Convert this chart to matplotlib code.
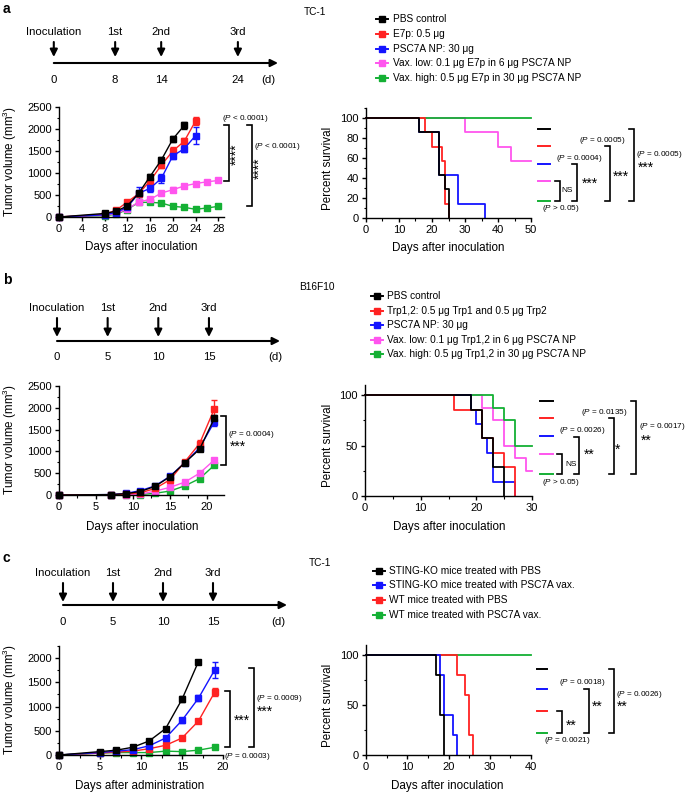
import matplotlib
matplotlib.use('Agg')
import matplotlib.pyplot as plt
from matplotlib.ticker import MultipleLocator

plt.rcParams['font.family'] = ['Liberation Sans', 'DejaVu Sans']
plt.rcParams['mathtext.fontset'] = 'custom'
plt.rcParams['mathtext.rm'] = 'Liberation Sans'
plt.rcParams['mathtext.it'] = 'Liberation Sans:italic'
plt.rcParams['mathtext.bf'] = 'Liberation Sans:bold'

# ---------------- data ----------------
# schedules
a_sched_days = [0, 8, 14, 24]
bc_sched_days = [0, 5, 10, 15]
sched_labels = ['Inoculation', '1st', '2nd', '3rd']

# panel a tumor growth
a_days = [0, 8, 10, 12, 14, 16, 18, 20, 22, 24, 26, 28]
a_pbs = [0, 80, 130, 250, 540, 920, 1300, 1770, 2080]
a_pbs_err = [0, 15, 20, 30, 60, 60, 70, 70, 90]
a_e7p = [0, 60, 150, 340, 530, 820, 1180, 1500, 1720, 2180]
a_e7p_err = [0, 15, 20, 30, 50, 60, 70, 80, 80, 90]
a_np = [0, 50, 100, 220, 540, 650, 880, 1390, 1550, 1850]
a_np_err = [0, 10, 20, 30, 140, 80, 100, 80, 80, 190]
a_low = [0, 40, 80, 180, 340, 400, 545, 620, 705, 760, 800, 830]
a_low_err = [0, 10, 15, 20, 30, 30, 50, 60, 50, 40, 40, 40]
a_high = [0, 30, 60, 170, 333, 333, 318, 242, 220, 175, 205, 242]
a_high_err = [0, 10, 10, 20, 30, 30, 30, 30, 30, 30, 30, 30]

# panel a survival (time, percent)
a_s_pbs_t = [0, 16, 22, 24, 25]
a_s_pbs = [100, 85.7, 42.9, 28.6, 0]
a_s_e7p_t = [0, 18, 20, 23, 24, 25]
a_s_e7p = [100, 85.7, 71.4, 57.1, 14.3, 0]
a_s_np_t = [0, 16, 22, 28, 36]
a_s_np = [100, 85.7, 42.9, 14.3, 0]
a_s_low_t = [0, 30, 40, 44, 50]
a_s_low = [100, 85.7, 71.4, 57.1, 57.1]
a_s_high_t = [0, 50]
a_s_high = [100, 100]

# panel b tumor growth
b_days = [0, 7, 9, 11, 13, 15, 17, 19, 21]
b_pbs = [0, 10, 30, 80, 200, 420, 740, 1050, 1760]
b_pbs_err = [0, 5, 10, 15, 25, 35, 40, 50, 80]
b_trp = [0, 5, 20, 50, 150, 350, 760, 1180, 1980]
b_trp_err = [0, 5, 10, 15, 20, 40, 40, 90, 200]
b_np = [0, 10, 35, 100, 210, 430, 740, 1080, 1680]
b_np_err = [0, 5, 10, 15, 25, 35, 40, 50, 90]
b_low = [0, 0, 10, 20, 90, 175, 295, 500, 805]
b_low_err = [0, 0, 5, 10, 15, 20, 25, 30, 40]
b_high = [0, 0, 5, 10, 40, 90, 210, 375, 685]
b_high_err = [0, 0, 5, 5, 10, 15, 20, 30, 40]

# panel b survival
b_s_pbs_t = [0, 19, 21, 23, 25]
b_s_pbs = [100, 85.7, 57.1, 28.6, 0]
b_s_trp_t = [0, 16, 21, 23, 25, 27]
b_s_trp = [100, 85.7, 57.1, 42.9, 28.6, 0]
b_s_np_t = [0, 19, 20, 21, 22, 23, 27]
b_s_np = [100, 85.7, 71.4, 57.1, 42.9, 14.3, 0]
b_s_low_t = [0, 21, 23, 25, 27, 29, 30]
b_s_low = [100, 87.5, 75, 50, 37.5, 25, 25]
b_s_high_t = [0, 23, 25, 27, 30]
b_s_high = [100, 87.5, 75, 50, 50]

# panel c tumor growth
c_days = [0, 5, 7, 9, 11, 13, 15, 17, 19]
c_ko_pbs = [0, 70, 100, 160, 290, 545, 1150, 1925]
c_ko_pbs_err = [0, 10, 10, 15, 20, 30, 60, 30]
c_ko_vax = [0, 50, 80, 110, 190, 350, 715, 1170, 1760]
c_ko_vax_err = [0, 10, 10, 10, 15, 20, 50, 60, 170]
c_wt_pbs = [0, 40, 60, 80, 130, 200, 350, 700, 1300]
c_wt_pbs_err = [0, 10, 10, 10, 15, 15, 25, 40, 80]
c_wt_vax = [0, 40, 50, 50, 50, 80, 70, 100, 160]
c_wt_vax_err = [0, 5, 5, 5, 5, 10, 10, 10, 20]

# panel c survival
c_s_ko_pbs_t = [0, 17, 18, 19]
c_s_ko_pbs = [100, 80, 40, 0]
c_s_ko_vax_t = [0, 18, 19, 21, 22]
c_s_ko_vax = [100, 80, 40, 20, 0]
c_s_wt_pbs_t = [0, 22, 24, 25, 26]
c_s_wt_pbs = [100, 80, 60, 20, 0]
c_s_wt_vax_t = [0, 40]
c_s_wt_vax = [100, 100]

a_legend = ['PBS control', 'E7p: 0.5 \u03bcg', 'PSC7A NP: 30 \u03bcg',
            'Vax. low: 0.1 \u03bcg E7p in 6 \u03bcg PSC7A NP',
            'Vax. high: 0.5 \u03bcg E7p in 30 \u03bcg PSC7A NP']
b_legend = ['PBS control', 'Trp1,2: 0.5 \u03bcg Trp1 and 0.5 \u03bcg Trp2', 'PSC7A NP: 30 \u03bcg',
            'Vax. low: 0.1 \u03bcg Trp1,2 in 6 \u03bcg PSC7A NP',
            'Vax. high: 0.5 \u03bcg Trp1,2 in 30 \u03bcg PSC7A NP']
c_legend = ['STING-KO mice treated with PBS', 'STING-KO mice treated with PSC7A vax.',
            'WT mice treated with PBS', 'WT mice treated with PSC7A vax.']

BLACK = '#000000'
RED = '#ff2222'
BLUE = '#1414ff'
MAG = '#ff55ee'
GREEN = '#14b034'

# ---------------- figure ----------------
W, H = 685, 793
fig = plt.figure(figsize=(W / 100, H / 100), dpi=100)


def pax(x0, y0, x1, y1, **kw):
    return fig.add_axes([x0 / W, 1 - y1 / H, (x1 - x0) / W, (y1 - y0) / H], **kw)


ov = pax(0, 0, W, H, zorder=10)
ov.set_xlim(0, W)
ov.set_ylim(H, 0)
ov.axis('off')

TICK = 8
LAB = 8.4
PFS = 5.9
STAR = 10
LEG = 7.25


def style(ax):
    for s in ['top', 'right']:
        ax.spines[s].set_visible(False)
    for s in ['left', 'bottom']:
        ax.spines[s].set_linewidth(1.0)
    ax.tick_params(which='major', direction='out', length=3, width=1.0,
                   labelsize=TICK, pad=2)
    ax.tick_params(which='minor', direction='out', length=1.8, width=0.8)
    ax.patch.set_alpha(0)


def timeline(days, px0, ppd, x_end, y_lab, y_top, y_tip, y_line, y_num, d_x):
    ax = pax(0, y_lab - 12, 300, y_num + 12)
    ax.set_xlim((0 - px0) / ppd, (300 - px0) / ppd)
    ax.set_ylim(y_num + 12, y_lab - 12)
    ax.axis('off')
    ap = dict(arrowstyle='-|>', color='k', lw=1.5, mutation_scale=11,
              shrinkA=0, shrinkB=0)
    for d, lab in zip(days, sched_labels):
        ax.annotate('', xy=(d, y_tip), xytext=(d, y_top), arrowprops=ap)
        ax.text(d, y_lab, lab, ha='center', va='center', fontsize=8.2)
        ax.text(d, y_num, str(d), ha='center', va='center', fontsize=8.2)
    ax.annotate('', xy=((x_end - px0) / ppd, y_line), xytext=(days[0], y_line),
                arrowprops=ap)
    ax.text((d_x - px0) / ppd, y_num, '(d)', ha='center', va='center', fontsize=8.2)


def tumor(ax, days, vals, errs, color):
    n = len(vals)
    ax.errorbar(days[:n], vals, yerr=errs, color=color, marker='s', ms=4.3,
                mec=color, mfc=color, lw=1.0, elinewidth=1.0, capsize=2,
                capthick=1.0, clip_on=False)


def km(ax, t, s, color):
    ax.step(t, s, where='post', color=color, lw=1.3, clip_on=False)


def ptxt(op, val):
    return r'($\mathit{P}$' + ' ' + op + ' ' + val + ')'


def bracket(x, y0, y1, tick=5, lw=1.2):
    ov.plot([x - tick, x, x, x - tick], [y0, y0, y1, y1], color='k', lw=lw,
            solid_joinstyle='miter')


def stars(x, y, s, rot=0):
    ov.text(x, y + 2.5 if rot == 0 else y, s, rotation=rot, ha='center',
            va='center', fontsize=STAR)


def legend_rows(x_mark, x_text, ys, labels, colors):
    for y, lab, c in zip(ys, labels, colors):
        ov.plot([x_mark - 6, x_mark + 6], [y, y], color=c, lw=1.4)
        ov.plot([x_mark], [y], marker='s', ms=4.3, color=c)
        ov.text(x_text, y, lab, ha='left', va='center', fontsize=LEG)


def surv_keys(x0, x1, ys, colors):
    for y, c in zip(ys, colors):
        ov.plot([x0, x1], [y, y], color=c, lw=1.4)


# ---------------- panel a ----------------
ov.text(3, 9, 'a', fontsize=10, fontweight='bold', ha='left', va='center')
ov.text(315, 12, 'TC-1', fontsize=7.3, ha='center', va='center')
timeline(a_sched_days, 53.8, 7.67, 278, 32, 42, 57, 63, 80, 268)
legend_rows(382, 393, [19, 34, 49, 63, 78], a_legend,
            [BLACK, RED, BLUE, MAG, GREEN])

ax = pax(59, 107, 224, 217)
style(ax)
tumor(ax, a_days, a_high, a_high_err, GREEN)
tumor(ax, a_days, a_low, a_low_err, MAG)
tumor(ax, a_days, a_e7p, a_e7p_err, RED)
tumor(ax, a_days, a_np, a_np_err, BLUE)
tumor(ax, a_days, a_pbs, a_pbs_err, BLACK)
ax.set_xlim(0, 29)
ax.set_ylim(0, 2500)
ax.set_xticks(range(0, 29, 4))
ax.set_yticks(range(0, 2501, 500))
ax.yaxis.set_minor_locator(MultipleLocator(250))
ov.text(10, 162, 'Tumor volume (mm$^3$)', rotation=90, ha='center', va='center', fontsize=LAB)
ov.text(141, 247, 'Days after inoculation', ha='center', va='center', fontsize=LAB)
bracket(229, 125, 181)
bracket(252, 125, 206)
stars(237, 154, '****', rot=90)
stars(260, 168, '****', rot=90)
ov.text(245, 118, ptxt('<', '0.0001'), ha='center', va='center', fontsize=PFS)
ov.text(277, 147, ptxt('<', '0.0001'), ha='center', va='center', fontsize=PFS)

ax = pax(366, 108, 531, 218)
style(ax)
km(ax, a_s_low_t, a_s_low, MAG)
km(ax, a_s_high_t, a_s_high, GREEN)
km(ax, a_s_np_t, a_s_np, BLUE)
km(ax, a_s_e7p_t, a_s_e7p, RED)
km(ax, a_s_pbs_t, a_s_pbs, BLACK)
ax.set_xlim(0, 50)
ax.set_ylim(0, 110)
ax.set_xticks(range(0, 51, 10))
ax.xaxis.set_minor_locator(MultipleLocator(5))
ax.set_yticks(range(0, 101, 20))
ax.yaxis.set_minor_locator(MultipleLocator(10))
ov.text(328, 168, 'Percent survival', rotation=90, ha='center', va='center', fontsize=LAB)
ov.text(448, 248, 'Days after inoculation', ha='center', va='center', fontsize=LAB)
surv_keys(538, 550, [129, 146, 164, 181, 201], [BLACK, RED, BLUE, MAG, GREEN])
bracket(560, 181, 201)
ov.text(567, 191, 'NS', ha='center', va='center', fontsize=6)
ov.text(561, 209, ptxt('>', '0.05'), ha='center', va='center', fontsize=PFS)
bracket(577, 164, 201)
stars(589.5, 181, '***')
ov.text(579, 158, ptxt('=', '0.0004'), ha='center', va='center', fontsize=PFS)
bracket(610, 146, 201)
stars(621, 174, '***')
ov.text(602, 140, ptxt('=', '0.0005'), ha='center', va='center', fontsize=PFS)
bracket(634, 129, 201)
ov.text(659, 154, ptxt('=', '0.0005'), ha='center', va='center', fontsize=PFS)
stars(646, 165, '***')

# ---------------- panel b ----------------
ov.text(3, 280, 'b', fontsize=10, fontweight='bold', ha='left', va='center')
ov.text(317, 287, 'B16F10', fontsize=7.3, ha='center', va='center')
timeline(bc_sched_days, 57, 10.13, 280, 308, 318, 337, 341, 357, 275)
legend_rows(377, 387, [296, 311, 325, 340, 354], b_legend,
            [BLACK, RED, BLUE, MAG, GREEN])

ax = pax(59, 386, 224, 495)
style(ax)
tumor(ax, b_days, b_high, b_high_err, GREEN)
tumor(ax, b_days, b_low, b_low_err, MAG)
tumor(ax, b_days, b_np, b_np_err, BLUE)
tumor(ax, b_days, b_trp, b_trp_err, RED)
tumor(ax, b_days, b_pbs, b_pbs_err, BLACK)
ax.set_xlim(0, 22.3)
ax.set_ylim(0, 2500)
ax.set_xticks(range(0, 21, 5))
ax.xaxis.set_minor_locator(MultipleLocator(2.5))
ax.set_yticks(range(0, 2501, 500))
ax.yaxis.set_minor_locator(MultipleLocator(250))
ov.text(10, 440, 'Tumor volume (mm$^3$)', rotation=90, ha='center', va='center', fontsize=LAB)
ov.text(142, 527, 'Days after inoculation', ha='center', va='center', fontsize=LAB)
bracket(226, 416, 465)
ov.text(251, 434, ptxt('=', '0.0004'), ha='center', va='center', fontsize=PFS)
stars(238, 444, '***')

ax = pax(365, 385, 532, 496)
style(ax)
km(ax, b_s_low_t, b_s_low, MAG)
km(ax, b_s_high_t, b_s_high, GREEN)
km(ax, b_s_np_t, b_s_np, BLUE)
km(ax, b_s_trp_t, b_s_trp, RED)
km(ax, b_s_pbs_t, b_s_pbs, BLACK)
ax.set_xlim(0, 30)
ax.set_ylim(0, 110)
ax.set_xticks(range(0, 31, 10))
ax.xaxis.set_minor_locator(MultipleLocator(5))
ax.set_yticks([0, 50, 100])
ax.yaxis.set_minor_locator(MultipleLocator(25))
ov.text(328, 445, 'Percent survival', rotation=90, ha='center', va='center', fontsize=LAB)
ov.text(449, 527, 'Days after inoculation', ha='center', va='center', fontsize=LAB)
surv_keys(540, 553, [401, 418, 436, 454, 474], [BLACK, RED, BLUE, MAG, GREEN])
bracket(562, 454, 474)
ov.text(571, 464, 'NS', ha='center', va='center', fontsize=6)
ov.text(561, 482, ptxt('>', '0.05'), ha='center', va='center', fontsize=PFS)
bracket(579, 437, 474)
stars(589.5, 452, '**')
ov.text(582, 431, ptxt('=', '0.0026'), ha='center', va='center', fontsize=PFS)
bracket(614, 418, 474)
stars(618, 447, '*')
ov.text(604, 412, ptxt('=', '0.0135'), ha='center', va='center', fontsize=PFS)
bracket(636, 401, 474)
ov.text(662, 427, ptxt('=', '0.0017'), ha='center', va='center', fontsize=PFS)
stars(646, 438, '**')

# ---------------- panel c ----------------
ov.text(3, 558, 'c', fontsize=10, fontweight='bold', ha='left', va='center')
ov.text(320, 563, 'TC-1', fontsize=7.3, ha='center', va='center')
timeline(bc_sched_days, 63, 10.0, 287, 573, 583, 602, 605, 622, 278)
legend_rows(379, 389, [571, 585, 600, 615], c_legend,
            [BLACK, BLUE, RED, GREEN])

ax = pax(59, 646, 223, 755)
style(ax)
tumor(ax, c_days, c_wt_vax, c_wt_vax_err, GREEN)
tumor(ax, c_days, c_wt_pbs, c_wt_pbs_err, RED)
tumor(ax, c_days, c_ko_vax, c_ko_vax_err, BLUE)
tumor(ax, c_days, c_ko_pbs, c_ko_pbs_err, BLACK)
ax.set_xlim(0, 20)
ax.set_ylim(0, 2250)
ax.set_xticks(range(0, 21, 5))
ax.xaxis.set_minor_locator(MultipleLocator(2.5))
ax.set_yticks(range(0, 2001, 500))
ax.yaxis.set_minor_locator(MultipleLocator(250))
ov.text(10, 700, 'Tumor volume (mm$^3$)', rotation=90, ha='center', va='center', fontsize=LAB)
ov.text(140, 786, 'Days after administration', ha='center', va='center', fontsize=LAB)
bracket(230, 691, 747)
stars(242, 718, '***')
bracket(254, 668, 747)
ov.text(279, 698, ptxt('=', '0.0009'), ha='center', va='center', fontsize=PFS)
stars(265, 709, '***')
ov.text(247.5, 756, ptxt('=', '0.0003'), ha='center', va='center', fontsize=PFS)

ax = pax(366, 645, 531, 755)
style(ax)
km(ax, c_s_wt_vax_t, c_s_wt_vax, GREEN)
km(ax, c_s_wt_pbs_t, c_s_wt_pbs, RED)
km(ax, c_s_ko_vax_t, c_s_ko_vax, BLUE)
km(ax, c_s_ko_pbs_t, c_s_ko_pbs, BLACK)
ax.set_xlim(0, 40)
ax.set_ylim(0, 110)
ax.set_xticks(range(0, 41, 10))
ax.xaxis.set_minor_locator(MultipleLocator(5))
ax.set_yticks([0, 50, 100])
ax.yaxis.set_minor_locator(MultipleLocator(25))
ov.text(328, 705, 'Percent survival', rotation=90, ha='center', va='center', fontsize=LAB)
ov.text(447.5, 786, 'Days after inoculation', ha='center', va='center', fontsize=LAB)
surv_keys(537, 547, [669, 689, 711, 733], [BLACK, BLUE, RED, GREEN])
bracket(562, 711, 733)
stars(571, 723, '**')
ov.text(567.5, 740, ptxt('=', '0.0021'), ha='center', va='center', fontsize=PFS)
bracket(589, 689, 733)
stars(597, 704, '**')
ov.text(582.5, 683, ptxt('=', '0.0018'), ha='center', va='center', fontsize=PFS)
bracket(614, 669, 733)
ov.text(639.5, 694, ptxt('=', '0.0026'), ha='center', va='center', fontsize=PFS)
stars(622.5, 704, '**')

fig.savefig('out.png', dpi=100)
